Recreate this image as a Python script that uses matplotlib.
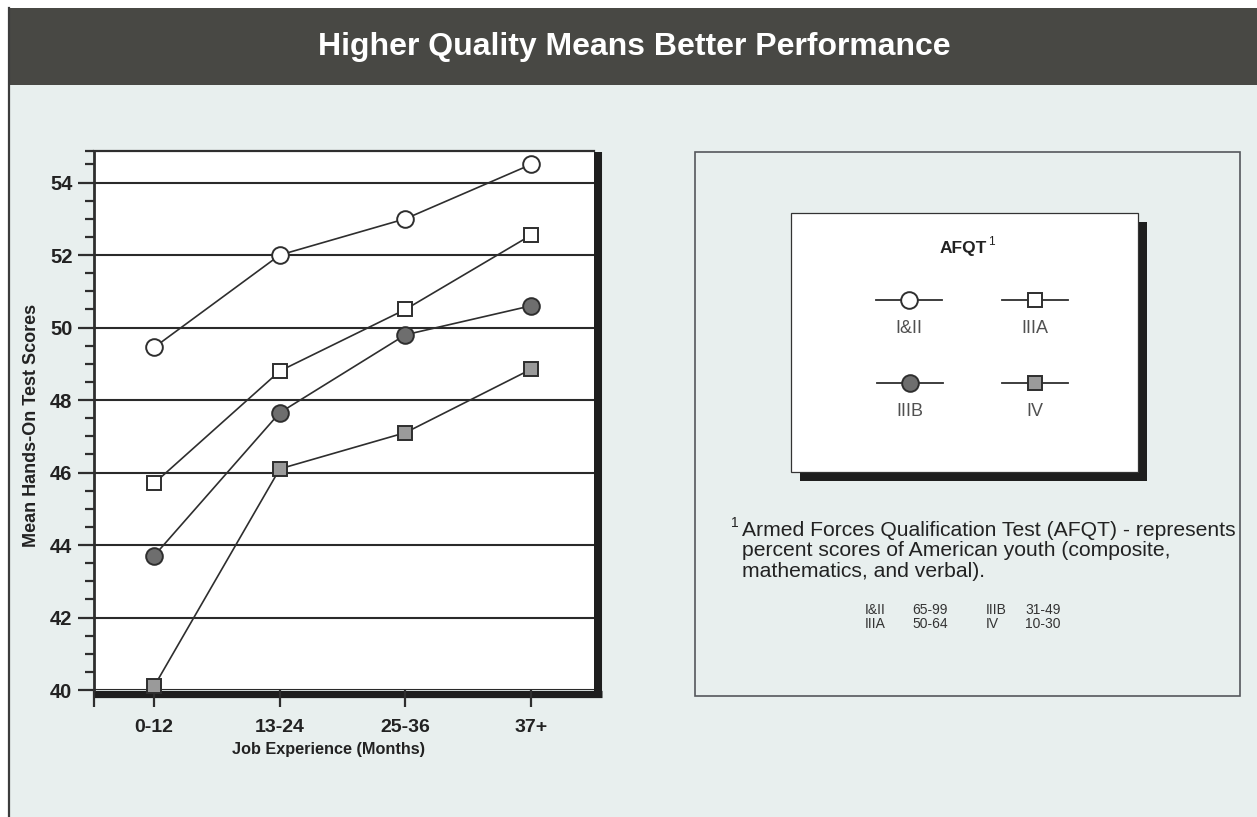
import matplotlib
matplotlib.use("Agg")
import matplotlib.pyplot as plt
from matplotlib.patches import Rectangle
from matplotlib.ticker import FixedLocator, MultipleLocator

plt.rcParams["font.family"] = ["Liberation Sans", "DejaVu Sans"]

# Mean hands-on test scores by months of job experience, per AFQT category
experience = ["0-12", "13-24", "25-36", "37+"]
cat_1_2 = [49.45, 52.0, 53.0, 54.5]
cat_3a = [45.7, 48.8, 50.5, 52.55]
cat_3b = [43.7, 47.65, 49.8, 50.6]
cat_4 = [40.1, 46.1, 47.1, 48.85]

series_labels = ["I&II", "IIIA", "IIIB", "IV"]
percentile_ranges = ["65-99", "50-64", "31-49", "10-30"]

W, H = 1257, 817
BG = "#e8efee"
INK = "#2e2e2e"

fig = plt.figure(figsize=(W / 100, H / 100), dpi=100)
fig.patch.set_facecolor("white")

# pixel-space overlay for the page furniture (header, boxes, notes)
page = fig.add_axes([0, 0, 1, 1], zorder=-1)
page.set_xlim(0, W)
page.set_ylim(H, 0)
page.axis("off")

page.add_patch(Rectangle((8, 8), W - 8, H - 8, facecolor=BG, edgecolor="none"))
page.add_patch(Rectangle((8, 8), W - 8, 77, facecolor="#484844", edgecolor="none"))
page.plot([9, 9], [8, H], color="#3c3c3c", lw=1.6)
page.text(634, 47, "Higher Quality Means Better Performance", color="white",
          fontsize=23, fontweight="bold", ha="center", va="center")

# heavy right/bottom frame of the chart
page.plot([94, 602], [693.5, 693.5], color="#1e1e1e", lw=5.2, solid_capstyle="butt")
page.plot([598, 598], [152, 697], color="#1e1e1e", lw=5.8, solid_capstyle="butt")

# right-hand panel
page.add_patch(Rectangle((695, 152), 545, 544, facecolor="none", edgecolor="#55575c", lw=1.2))
page.add_patch(Rectangle((800, 222), 347, 259, facecolor="#1e1e1e", edgecolor="none"))
page.add_patch(Rectangle((791, 213), 347, 259, facecolor="white", edgecolor="#333333", lw=0.9))
page.text(987, 248, "AFQT", fontsize=12.5, fontweight="bold", ha="right",
          va="center", color="#222222")
page.text(988, 242, "1", fontsize=8.5, ha="left", va="center", color="#222222")

legend_styles = [
    dict(marker="o", ms=12, mfc="white"),
    dict(marker="s", ms=10.5, mfc="white"),
    dict(marker="o", ms=12, mfc="#6e6e6e"),
    dict(marker="s", ms=10.5, mfc="#9a9a9a"),
]
legend_slots = [(909, 300), (1035, 300), (910, 383), (1035, 383)]
for lbl, st, (cx, cy) in zip(series_labels, legend_styles, legend_slots):
    page.plot([cx - 33, cx + 33], [cy, cy], color=INK, lw=1.3)
    page.plot([cx], [cy], linestyle="none", mec=INK, mew=1.4, **st)
    page.text(cx, cy + 28, lbl, fontsize=13, ha="center", va="center", color="#505050")

page.text(735, 523, "1", fontsize=10, ha="center", va="center", color="#222222")
page.text(742, 521, "Armed Forces Qualification Test (AFQT) - represents\n"
          "percent scores of American youth (composite,\n"
          "mathematics, and verbal).",
          fontsize=15.2, ha="left", va="top", linespacing=1.1, color="#222222")

for i, (lbl, rng) in enumerate(zip(series_labels, percentile_ranges)):
    col, row = divmod(i, 2)
    x0 = 865 + col * 121
    y0 = 610 + row * 14
    page.text(x0, y0, lbl, fontsize=10, ha="left", va="center", color="#333333")
    page.text(x0 + 47 - col * 8, y0, rng, fontsize=10, ha="left", va="center", color="#333333")

# main chart
ax = fig.add_axes([94 / W, 1 - 690 / H, 500 / W, 539 / H], zorder=1)
ax.set_facecolor("white")
x = list(range(len(experience)))

series = [cat_1_2, cat_3a, cat_3b, cat_4]
for vals, st in zip(series, legend_styles):
    ax.plot(x, vals, color=INK, lw=1.2, mec=INK, mew=1.4, clip_on=False, zorder=4, **st)

ax.set_xlim(-0.478, 3.5)
ax.set_ylim(40, 54.87)

ax.set_xticks(x)
ax.set_xticklabels(experience, fontsize=14, fontweight="bold", color="#222222")
ax.xaxis.set_minor_locator(FixedLocator([-0.478]))
ax.tick_params(axis="x", which="both", direction="out", length=12, width=1.6,
               color=INK, pad=9)

ax.yaxis.set_major_locator(MultipleLocator(2))
ax.yaxis.set_minor_locator(FixedLocator([v / 2 for v in range(81, 110, 1)] + [54.87]))
ax.tick_params(axis="y", which="major", direction="out", length=11.5, width=1.6,
               color=INK, pad=4, labelsize=14.5)
ax.tick_params(axis="y", which="minor", direction="out", length=6.5, width=1.6, color=INK)
for t in ax.get_yticklabels():
    t.set_fontweight("bold")
    t.set_color("#222222")

ax.yaxis.grid(True, which="major", color="#2a2a2a", lw=1.5)
ax.set_axisbelow(True)

for side in ("right", "bottom"):
    ax.spines[side].set_visible(False)
ax.spines["left"].set_linewidth(2.0)
ax.spines["left"].set_color(INK)
ax.spines["top"].set_linewidth(1.6)
ax.spines["top"].set_color(INK)

ax.set_xlabel("Job Experience (Months)", fontsize=11.7, fontweight="bold",
              color="#222222", labelpad=2)
ax.xaxis.set_label_coords(0.47, -0.097)
fig.text(32 / W, 1 - 425 / H, "Mean Hands-On Test Scores", rotation=90,
         fontsize=13, fontweight="bold", ha="center", va="center", color="#222222")

fig.savefig("out.png", dpi=100)
